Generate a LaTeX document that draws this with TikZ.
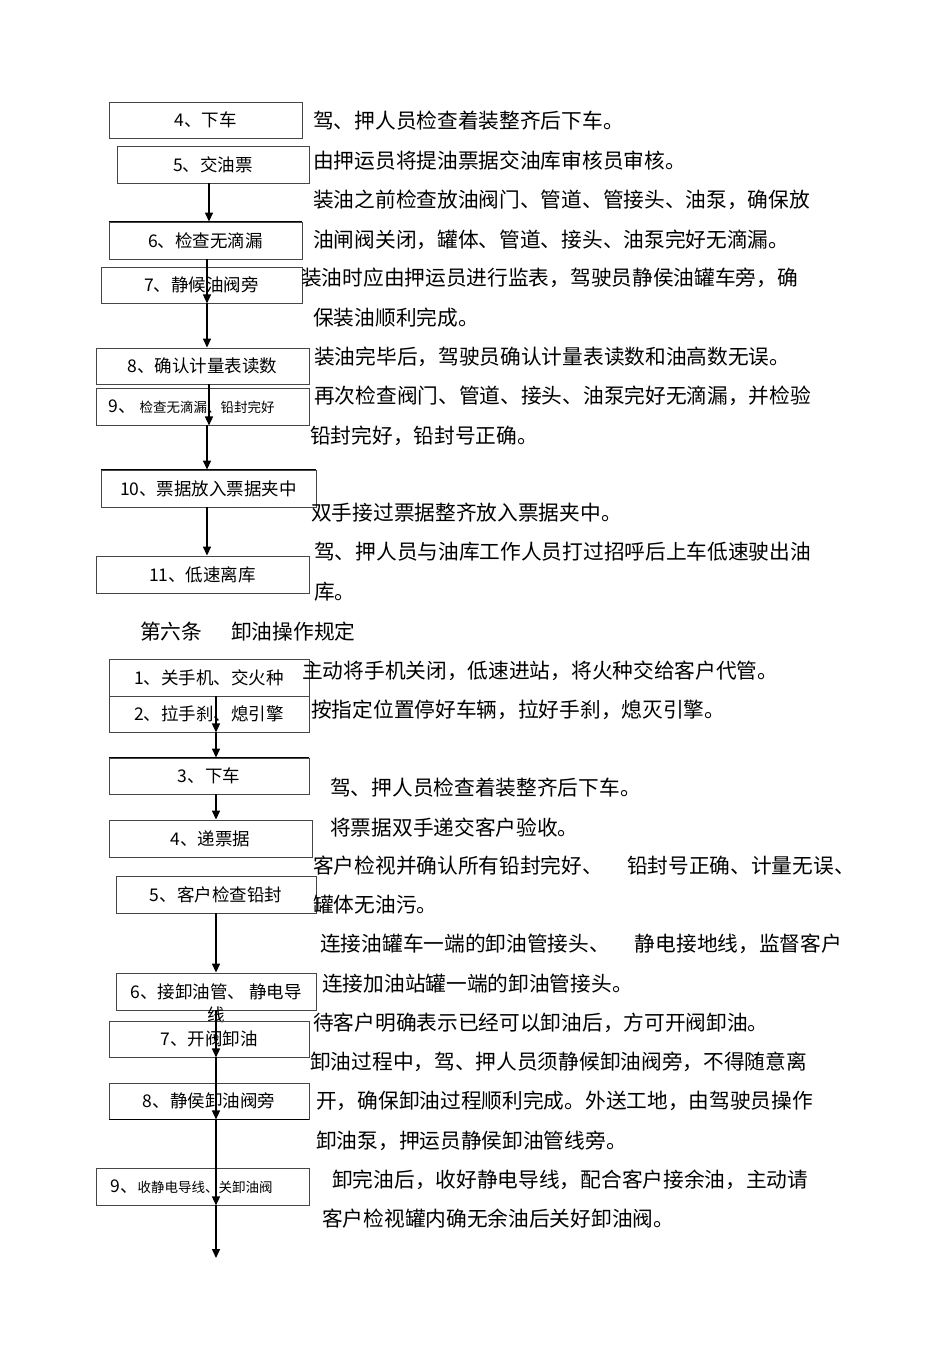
\documentclass[tikz,border=0pt]{standalone}
\usepackage{fontspec}
\setmainfont{Noto Sans CJK SC}
\usepackage{xcolor}
\definecolor{boxline}{RGB}{70, 70, 70}
\usepackage{tikz}
\usetikzlibrary{arrows.meta, calc}
\newcommand{\bodyfont}{\fontsize{20.7bp}{24bp}\selectfont}
\newcommand{\boxfont}{\fontsize{17.5bp}{21bp}\selectfont}
\newcommand{\smallfont}{\fontsize{13.5bp}{16bp}\selectfont}

\begin{document}
\begin{tikzpicture}[x=1bp, y=-1bp, >={Triangle[length=9bp, width=8bp]},
  stepbox/.style={draw=boxline, line width=0.9bp, inner sep=0pt, font=\boxfont},
  heavyedge/.style={line width=1.7bp},
  flow/.style={->, line width=1.4bp},
  note/.style={anchor=west, inner sep=0pt, font=\bodyfont}]
  \useasboundingbox (0,0) rectangle (950,1345);
  % spine lines of the two flows
  \coordinate (s1) at (209,0);
  \coordinate (s2) at (207,0);
  \coordinate (s3) at (216,0);
  \coordinate (tail) at (216,1258);
  % loading steps
  \node[stepbox, minimum width=193bp, minimum height=36bp] (u4) at (205.5,120) {4、下车};
  \node[stepbox, minimum width=192bp, minimum height=37bp] (u5) at (213,164.5) {5、交油票};
  \node[stepbox, minimum width=193bp, minimum height=37bp] (u6) at (205.5,240.5) {6、检查无滴漏};
  \node[stepbox, minimum width=201bp, minimum height=36bp] (u7) at (201.5,285) {7、静候油阀旁};
  \node[stepbox, minimum width=213bp, minimum height=36bp] (u8) at (202.5,366) {8、确认计量表读数};
  \node[stepbox, minimum width=213bp, minimum height=37bp] (u9) at (202.5,406.5) {9、 {\smallfont 检查无滴漏、铅封完好}\hspace{22bp}\mbox{}};
  \node[stepbox, minimum width=215bp, minimum height=37bp] (u10) at (208.5,488.5) {10、票据放入票据夹中};
  \node[stepbox, minimum width=213bp, minimum height=37bp] (u11) at (202.5,574.5) {11、低速离库};
  \draw[heavyedge] (u6.north west) -- (u6.north east);
  \draw[heavyedge] (u10.north west) -- (u10.north east);
  \draw[flow] (u5.south -| s1) -- (u6.north -| s1);
  \draw[flow] (u6.south -| s2) -- (u7.south -| s2);
  \draw[flow] (u7.south -| s2) -- (u8.north -| s2);
  \draw[flow] (u8.south -| s1) -- (u9.south -| s1);
  \draw[flow] (u9.south -| s2) -- (u10.north -| s2);
  \draw[flow] (u10.south -| s2) -- (u11.north -| s2);
  % loading notes
  \node[note] (t4) at (313,121) {驾、押人员检查着装整齐后下车。};
  \node[note] (t5) at (313,161) {由押运员将提油票据交油库审核员审核。};
  \node[note] (t6a) at (313,200) {装油之前检查放油阀门、管道、管接头、油泵，确保放};
  \node[note] (t6b) at (313,240) {油闸阀关闭，罐体、管道、接头、油泵完好无滴漏。};
  \node[note] (t7a) at (301,278) {装油时应由押运员进行监表，驾驶员静侯油罐车旁，确};
  \node[note] (t7b) at (313,318) {保装油顺利完成。};
  \node[note] (t8) at (314,357) {装油完毕后，驾驶员确认计量表读数和油高数无误。};
  \node[note] (t9a) at (314,396) {再次检查阀门、管道、接头、油泵完好无滴漏，并检验};
  \node[note] (t9b) at (310,436) {铅封完好，铅封号正确。};
  \node[note] (t10) at (311,513) {双手接过票据整齐放入票据夹中。};
  \node[note] (t11a) at (314,552) {驾、押人员与油库工作人员打过招呼后上车低速驶出油};
  \node[note] (t11b) at (314,592) {库。};
  % unloading
  \node[note] (sec6) at (140,632) {第六条\hspace{29bp}卸油操作规定};
  \node[stepbox, minimum width=200bp, minimum height=37bp] (l1) at (209,677.5) {1、关手机、交火种};
  \node[stepbox, minimum width=200bp, minimum height=36bp] (l2) at (209,714) {2、拉手刹、熄引擎};
  \node[stepbox, minimum width=200bp, minimum height=36bp] (l3) at (209,776) {3、下车};
  \node[stepbox, minimum width=203bp, minimum height=37bp] (l4) at (210.5,838.5) {4、递票据};
  \node[stepbox, minimum width=200bp, minimum height=37bp] (l5) at (216,894.5) {5、客户检查铅封};
  \node[stepbox, minimum width=200bp, minimum height=37bp] (l6) at (216,991.5) {6、接卸油管、 静电导};
  \node[font=\boxfont, inner sep=0pt] (l6w) at (216,1015) {线};
  \node[stepbox, minimum width=200bp, minimum height=36bp] (l7) at (209,1039) {7、开阀卸油};
  \node[stepbox, minimum width=200bp, minimum height=36bp] (l8) at (209,1101) {8、静侯卸油阀旁};
  \node[stepbox, minimum width=213bp, minimum height=37bp] (l9) at (202.5,1186.5) {9、{\smallfont 收静电导线、关卸油阀}\hspace{22bp}\mbox{}};
  \draw[heavyedge] (l3.north west) -- (l3.north east);
  \draw[heavyedge] (l8.south west) -- (l8.south east);
  \draw[flow] (l1.south -| s3) -- (l2.south -| s3);
  \draw[flow] (l2.south -| s3) -- (l3.north -| s3);
  \draw[flow] (l3.south -| s3) -- (l4.north -| s3);
  \draw[flow] (l5.south -| s3) -- (l6.north -| s3);
  \draw[flow] (l6.south -| s3) -- (l7.south -| s3);
  \draw[flow] (l7.south -| s3) -- (l8.south -| s3);
  \draw[flow] (l8.south -| s3) -- (l9.south -| s3);
  \draw[flow] (l9.south -| s3) -- (tail);
  % unloading notes
  \node[note] (n1) at (302,671) {主动将手机关闭，低速进站，将火种交给客户代管。};
  \node[note] (n2) at (311,710) {按指定位置停好车辆，拉好手刹，熄灭引擎。};
  \node[note] (n3) at (330,788) {驾、押人员检查着装整齐后下车。};
  \node[note] (n4) at (330,828) {将票据双手递交客户验收。};
  \node[note] (n5a) at (313,866) {客户检视并确认所有铅封完好、\hspace{24bp}铅封号正确、计量无误、};
  \node[note] (n5b) at (313,905) {罐体无油污。};
  \node[note] (n6a) at (320,944) {连接油罐车一端的卸油管接头、\hspace{25bp}静电接地线，监督客户};
  \node[note] (n6b) at (322,984) {连接加油站罐一端的卸油管接头。};
  \node[note] (n7) at (313,1023) {待客户明确表示已经可以卸油后，方可开阀卸油。};
  \node[note] (n8a) at (310,1062) {卸油过程中，驾、押人员须静候卸油阀旁，不得随意离};
  \node[note] (n8b) at (316,1101) {开，确保卸油过程顺利完成。外送工地，由驾驶员操作};
  \node[note] (n8c) at (316,1141) {卸油泵，押运员静侯卸油管线旁。};
  \node[note] (n9a) at (332,1180) {卸完油后，收好静电导线，配合客户接余油，主动请};
  \node[note] (n9b) at (322,1219) {客户检视罐内确无余油后关好卸油阀。};
\end{tikzpicture}
\end{document}
